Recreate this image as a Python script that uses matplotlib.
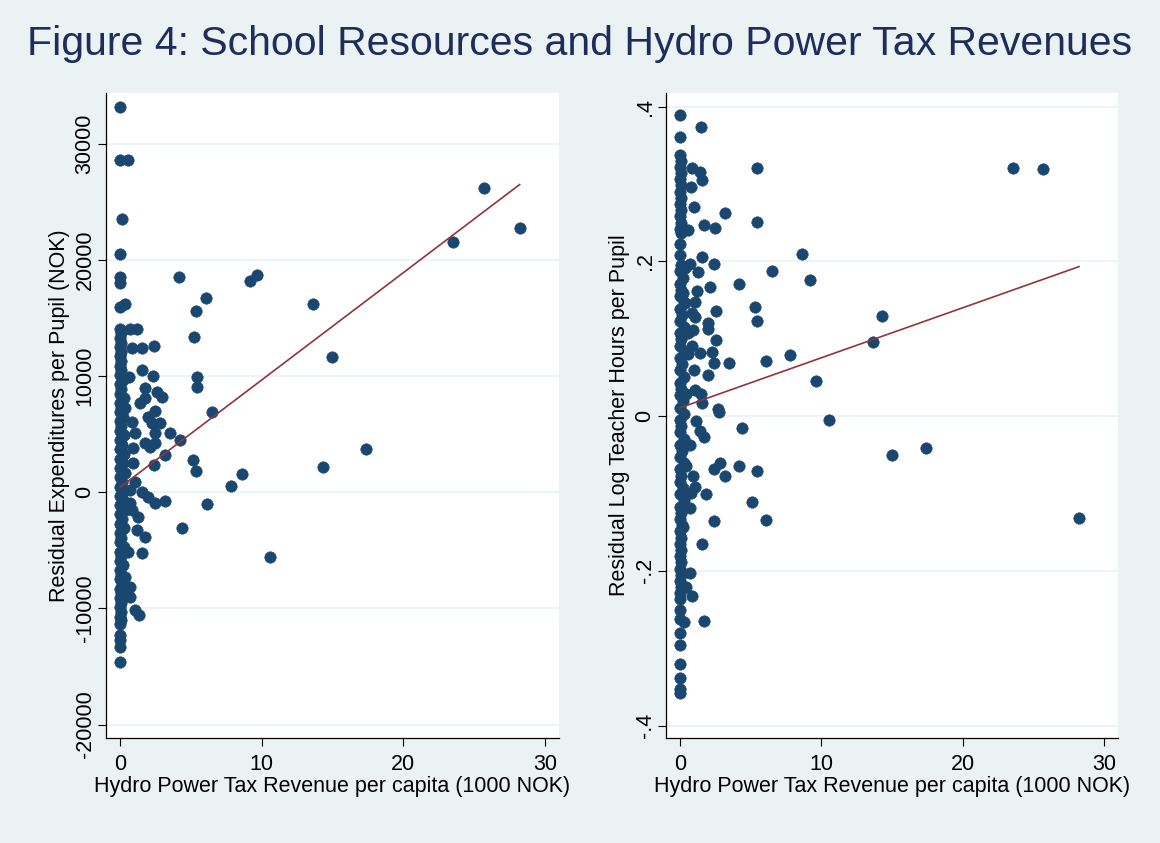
import matplotlib
matplotlib.use('Agg')
import matplotlib.pyplot as plt
import numpy as np

plt.rcParams['font.family'] = ['Liberation Sans', 'DejaVu Sans']

# Left panel: residual expenditures per pupil (NOK) vs hydro tax revenue (1000 NOK)
# points at (near) zero hydro revenue
exp_column = [
    (0.0, 33200), (0.0, 28620), (0.12, 23510), (0.0, 20500), (0.0, 18570), (0.0, 18000),
    (0.0, 16000), (0.35, 16250),
    (0.0, 14100), (0.05, 13700), (0.0, 13300), (0.1, 12900), (0.0, 12500), (0.05, 12100),
    (0.0, 11700), (0.1, 11300), (0.0, 10900), (0.05, 10500), (0.0, 10100), (0.2, 9700),
    (0.0, 9300), (0.1, 8900), (0.0, 8500), (0.25, 8100), (0.0, 7700), (0.1, 7300),
    (0.0, 6900), (0.2, 6500), (0.0, 6100), (0.1, 5700), (0.0, 5300), (0.3, 4900),
    (0.0, 4500), (0.15, 4100), (0.0, 3700), (0.3, 3300), (0.0, 2900), (0.2, 2500),
    (0.0, 2100), (0.35, 1700), (0.0, 1300), (0.15, 900), (0.0, 500), (0.3, 100),
    (0.0, -300), (0.2, -700), (0.0, -1100), (0.35, -1500), (0.0, -1900), (0.15, -2300),
    (0.0, -2700), (0.3, -3100), (0.0, -3500), (0.1, -3900), (0.0, -4300), (0.25, -4700),
    (0.0, -5100), (0.1, -5500), (0.0, -5900), (0.2, -6300), (0.0, -6700), (0.1, -7100),
    (0.0, -7500), (0.15, -7900), (0.0, -8300), (0.1, -8700), (0.0, -9100), (0.05, -9500),
    (0.0, -9900), (0.1, -10300), (0.0, -10700), (0.05, -11000), (0.0, -11300),
    (0.0, -12300), (0.0, -12700), (0.0, -13300), (0.0, -14600),
]
exp_scatter = [
    (0.59, 28620), (4.19, 18570), (9.19, 18230), (9.70, 18690), (6.08, 16710),
    (5.40, 15640), (13.66, 16190), (5.20, 13400), (14.99, 11630), (23.50, 21590),
    (25.68, 26240), (28.22, 22770), (5.47, 9900), (5.47, 9100), (6.48, 6940),
    (17.39, 3700), (4.24, 4500), (14.30, 2200), (5.18, 2780), (5.40, 1860),
    (8.64, 1580), (7.81, 570), (6.12, -1010), (4.36, -3050), (10.60, -5550),
    (0.71, 14040), (1.18, 14040), (0.82, 12400), (1.53, 12400), (2.42, 12600),
    (1.58, 10530), (2.36, 10020), (0.64, 9900), (1.77, 8960), (2.59, 8670),
    (2.94, 8180), (1.41, 7660), (1.77, 8090), (0.35, 7240), (2.47, 7030),
    (1.95, 6460), (2.24, 5940), (2.83, 5940), (0.82, 6080), (1.06, 5080),
    (2.47, 5130), (3.53, 5130), (1.77, 4220), (2.47, 4220), (0.94, 3790),
    (2.12, 3930), (3.18, 3210), (2.42, 2350), (0.94, 2500), (1.06, 910),
    (0.71, 200), (1.53, 50), (2.00, -380), (2.47, -950), (3.18, -720),
    (0.71, -950), (0.82, -1520), (1.30, -2100), (1.18, -3250), (1.77, -3820),
    (0.59, -5110), (1.58, -5260), (0.35, -7270), (0.71, -8180), (0.71, -9040),
    (1.06, -10140), (1.34, -10570),
]
exp_fit = (430, 924)  # intercept, slope

# Right panel: residual log teacher hours per pupil
hrs_column = [
    (0.0, 0.389), (0.0, 0.361),
    (0.0, 0.338), (0.05, 0.330), (0.0, 0.322), (0.05, 0.314), (0.0, 0.306), (0.05, 0.298),
    (0.0, 0.290), (0.05, 0.282), (0.0, 0.274), (0.05, 0.266), (0.0, 0.258), (0.05, 0.250),
    (0.0, 0.242), (0.1, 0.236), (0.0, 0.222), (0.0, 0.208),
    (0.1, 0.195), (0.0, 0.187), (0.2, 0.179), (0.0, 0.171), (0.1, 0.163), (0.0, 0.155),
    (0.25, 0.147), (0.0, 0.139), (0.15, 0.131), (0.0, 0.123), (0.3, 0.115), (0.0, 0.107),
    (0.1, 0.099), (0.0, 0.091), (0.25, 0.083), (0.0, 0.075), (0.15, 0.067), (0.0, 0.059),
    (0.3, 0.051), (0.0, 0.043), (0.1, 0.035), (0.0, 0.027), (0.2, 0.019), (0.0, 0.011),
    (0.3, 0.003), (0.0, -0.005), (0.1, -0.013), (0.0, -0.021), (0.25, -0.029), (0.0, -0.037),
    (0.15, -0.045), (0.0, -0.053), (0.3, -0.061), (0.0, -0.069), (0.1, -0.077), (0.0, -0.085),
    (0.2, -0.093), (0.0, -0.101), (0.3, -0.109), (0.0, -0.117), (0.1, -0.125), (0.0, -0.133),
    (0.15, -0.141), (0.0, -0.149), (0.05, -0.157), (0.0, -0.165), (0.1, -0.173), (0.0, -0.181),
    (0.05, -0.189), (0.0, -0.197), (0.1, -0.205), (0.0, -0.213), (0.05, -0.221), (0.0, -0.229),
    (0.0, -0.237), (0.0, -0.251), (0.0, -0.262), (0.0, -0.280), (0.0, -0.296), (0.0, -0.320),
    (0.0, -0.339), (0.0, -0.353), (0.0, -0.358),
]
hrs_scatter = [
    (1.49, 0.373), (0.87, 0.320), (1.42, 0.316), (1.53, 0.305), (0.78, 0.296),
    (1.01, 0.270), (3.18, 0.262), (5.43, 0.321), (5.47, 0.251), (1.72, 0.247),
    (2.48, 0.243), (0.59, 0.241), (23.55, 0.321), (25.67, 0.319), (8.66, 0.209),
    (9.20, 0.176), (6.51, 0.187), (4.18, 0.171), (1.53, 0.205), (2.43, 0.196),
    (0.71, 0.197), (1.30, 0.186), (2.12, 0.167), (1.18, 0.162), (0.35, 0.191),
    (0.24, 0.159), (1.06, 0.148), (0.35, 0.146), (5.29, 0.141), (5.47, 0.123),
    (2.52, 0.136), (14.27, 0.129), (13.64, 0.096), (1.06, 0.128), (0.83, 0.133),
    (1.96, 0.120), (1.96, 0.113), (0.94, 0.111), (2.52, 0.098), (0.59, 0.107),
    (0.83, 0.090), (7.78, 0.079), (6.06, 0.071), (9.62, 0.045), (3.47, 0.068),
    (1.42, 0.081), (2.24, 0.083), (2.43, 0.068), (2.00, 0.053), (1.01, 0.059),
    (0.59, 0.080), (1.06, 0.034), (1.49, 0.029), (1.53, 0.017), (0.40, 0.029),
    (2.71, 0.009), (2.78, 0.005), (10.57, -0.005), (4.37, -0.015), (1.11, -0.007),
    (1.42, -0.019), (1.72, -0.027), (0.71, -0.037), (17.40, -0.041), (14.99, -0.050),
    (0.35, -0.063), (2.83, -0.060), (2.43, -0.068), (4.18, -0.065), (5.43, -0.071),
    (3.18, -0.078), (0.94, -0.078), (1.06, -0.091), (0.78, -0.100), (1.81, -0.101),
    (0.40, -0.065), (5.13, -0.111), (0.71, -0.119), (2.43, -0.136), (6.11, -0.134),
    (28.24, -0.132), (0.24, -0.143), (1.53, -0.165), (0.71, -0.203), (0.40, -0.221),
    (0.83, -0.233), (1.70, -0.265), (0.28, -0.266),
]
hrs_fit = (0.0107, 0.00646)

x_ticks = [0, 10, 20, 30]
exp_ticks = [-20000, -10000, 0, 10000, 20000, 30000]
hrs_ticks = [-0.4, -0.2, 0, 0.2, 0.4]
hrs_tick_labels = ['-.4', '-.2', '0', '.2', '.4']

title = 'Figure 4: School Resources and Hydro Power Tax Revenues'
x_title = 'Hydro Power Tax Revenue per capita (1000 NOK)'
exp_title = 'Residual Expenditures per Pupil (NOK)'
hrs_title = 'Residual Log Teacher Hours per Pupil'

# Stata s2color style
bg = '#EAF2F3'
navy = '#1A476F'
maroon = '#90353B'
fs = 15.5

fig = plt.figure(figsize=(11.6, 8.43), dpi=100, facecolor=bg)
ax1 = fig.add_axes([106 / 1160, 1 - 738 / 843, 453 / 1160, 645 / 843])
ax2 = fig.add_axes([666 / 1160, 1 - 738 / 843, 452 / 1160, 645 / 843])

panels = [
    (ax1, exp_column + exp_scatter, exp_fit, exp_ticks, [str(t) for t in exp_ticks],
     (-21160, 34390), exp_title),
    (ax2, hrs_column + hrs_scatter, hrs_fit, hrs_ticks, hrs_tick_labels,
     (-0.416, 0.4175), hrs_title),
]

for ax, pts, fit, yt, ytl, ylim, ytitle in panels:
    xs = np.array([p[0] for p in pts])
    ys = np.array([p[1] for p in pts])
    ax.set_facecolor('white')
    ax.scatter(xs, ys, s=68, color=navy, edgecolors=navy, linewidths=0.4, zorder=3)
    # fitted line over the data range
    xl = np.array([xs.min(), xs.max()])
    ax.plot(xl, fit[0] + fit[1] * xl, color=maroon, lw=1.2, zorder=4)

    ax.set_xlim(-0.99, 31.0)
    ax.set_ylim(*ylim)
    ax.set_xticks(x_ticks)
    ax.set_yticks(yt)
    ax.set_yticklabels(ytl, rotation=90, va='center')
    ax.grid(axis='y', color=bg, lw=1.2, zorder=0)
    ax.set_axisbelow(True)
    for side in ['top', 'right']:
        ax.spines[side].set_visible(False)
    for side in ['left', 'bottom']:
        ax.spines[side].set_linewidth(0.9)
        ax.spines[side].set_color('black')
    ax.tick_params(axis='both', direction='out', length=5.5, width=0.8,
                   labelsize=fs, colors='black')
    ax.tick_params(axis='x', pad=6)
    ax.tick_params(axis='y', pad=2)
    ax.set_xlabel(x_title, fontsize=fs, labelpad=1)
    ax.set_ylabel(ytitle, fontsize=fs, labelpad=3)

fig.text(0.5, 1 - 44 / 843, title, ha='center', va='center',
         fontsize=29.5, color='#1E2D5C')

plt.savefig('out.png', dpi=100, facecolor=bg)
